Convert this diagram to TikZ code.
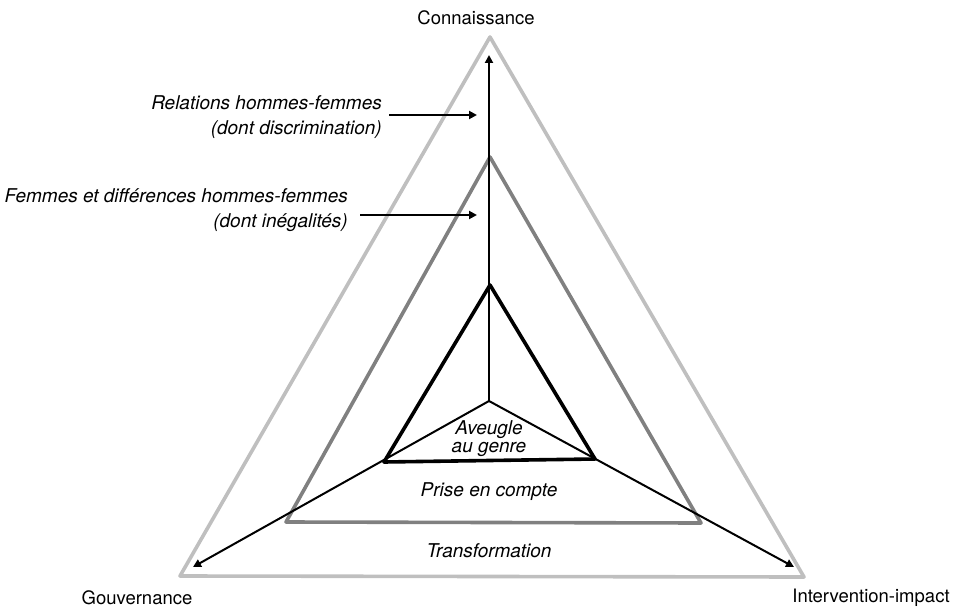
\documentclass[tikz,border=0pt]{standalone}
\usepackage{fontspec}
\setmainfont{TeX Gyre Heros}
\usetikzlibrary{arrows.meta}
\begin{document}
\begin{tikzpicture}[x=1pt,y=-1pt,
  tri/.style={line width=3.6pt,line join=round},
  axis/.style={line width=2pt,-{Triangle[length=8pt,width=8pt]}},
  lab/.style={font=\fontsize{19}{25}\selectfont\itshape,inner sep=0pt},
  corner/.style={font=\fontsize{18.5}{22}\selectfont,inner sep=0pt}]
\useasboundingbox (0,0) rectangle (958,607);
% corners of the three triangles
\coordinate (oT) at (490,37);  \coordinate (oL) at (180,576); \coordinate (oR) at (804,577);
\coordinate (mT) at (490,157); \coordinate (mL) at (286,522); \coordinate (mR) at (701,523);
\coordinate (iT) at (490,285); \coordinate (iL) at (384,462); \coordinate (iR) at (595,459);
\coordinate (c) at (489,401);
% axis ends
\coordinate (aT) at (489,55); \coordinate (aL) at (193,567); \coordinate (aR) at (794,567);
% triangles
\draw[tri,draw=black!25] (oT) -- (oL) -- (oR) -- cycle;
\draw[tri,draw=black!50] (mT) -- (mL) -- (mR) -- cycle;
% axes
\draw[axis] (c) -- (aT);
\draw[axis] (c) -- (aL);
\draw[axis] (c) -- (aR);
\draw[tri,draw=black] (iT) -- (iL) -- (iR) -- cycle;
% axis names
\node[corner] (kn) at (476,18) {Connaissance};
\node[corner] (gov) at (137,598) {Gouvernance};
\node[corner] (int) at (871,598) {Intervention-impact};
% levels
\node[lab,align=center,font=\fontsize{19}{18}\selectfont\itshape] (ave) at (489,439) {Aveugle\\au genre};
\node[lab] (pri) at (489,492) {Prise en compte};
\node[lab] (tra) at (489,551) {Transformation};
% side labels with arrows
\node[lab,align=right,anchor=east] (rel) at (382,117) {Relations hommes-femmes\\(dont discrimination)};
\node[lab,align=right,anchor=east] (fem) at (348,210) {Femmes et différences hommes-femmes\\(dont inégalités)};
\coordinate (r0) at (389,115); \coordinate (r1) at (477,115);
\coordinate (f0) at (360,215); \coordinate (f1) at (477,215);
\draw[axis] (r0) -- (r1);
\draw[axis] (f0) -- (f1);
\end{tikzpicture}
\end{document}
